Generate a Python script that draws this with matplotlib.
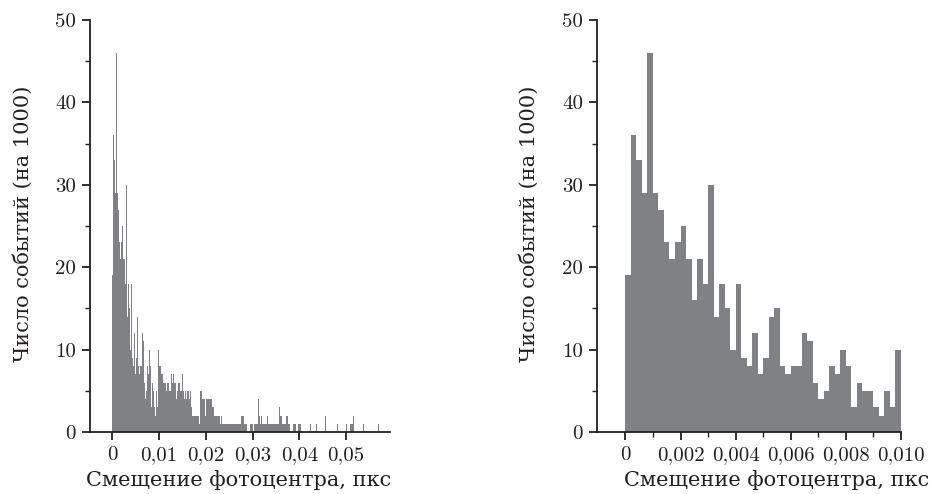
import matplotlib
matplotlib.use("Agg")
import matplotlib.pyplot as plt
import numpy as np

# ---- data ----
bin_width = 0.0002
# counts per bin, 0 .. 0.010 (right panel, also start of left panel)
counts_0_010 = [19, 36, 33, 29, 46, 29, 27, 23, 21, 23,
                25, 21, 16, 21, 18, 30, 14, 18, 15, 10,
                18, 9, 8, 12, 7, 9, 14, 15, 8, 7,
                8, 8, 12, 11, 6, 4, 5, 8, 7, 10,
                8, 3, 6, 5, 5, 3, 2, 5, 3, 10]
# counts per bin, 0.010 .. 0.057 (tail of left panel)
counts_tail = [8, 8, 7, 7, 6, 6, 6, 5, 6, 6,
               6, 5, 5, 7, 6, 7, 6, 6, 4, 5,
               6, 6, 5, 7, 5, 7, 5, 4, 5, 4,
               5, 5, 4, 5, 3, 2, 2, 2, 2, 2,
               2, 2, 2, 1, 5, 5, 4, 4, 4, 2,
               4, 4, 4, 4, 3, 4, 4, 3, 3, 2,
               2, 2, 2, 2, 2, 1, 2, 1, 1, 1,
               3, 1, 1, 1, 1, 1, 1, 1, 1, 1,
               1, 1, 1, 1, 1, 1, 1, 1, 2, 2,
               2, 1, 1, 1, 0, 0, 0, 1, 1, 1,
               0, 0, 1, 1, 1, 1, 4, 2, 1, 2,
               1, 1, 1, 1, 1, 2, 2, 1, 1, 1,
               1, 1, 1, 1, 1, 1, 1, 1, 3, 2,
               2, 1, 1, 1, 1, 1, 2, 2, 1, 1,
               0, 0, 0, 1, 1, 1, 1, 0, 0, 1,
               1, 1, 0, 0, 0, 0, 0, 0, 0, 0,
               0, 1, 0, 0, 0, 0, 0, 0, 1, 0,
               0, 0, 0, 0, 0, 0, 0, 0, 2, 0,
               0, 0, 0, 0, 0, 0, 0, 0, 0, 0,
               1, 0, 0, 0, 0, 0, 0, 0, 0, 0,
               1, 0, 0, 0, 1, 1, 1, 2, 3, 0,
               0, 0, 0, 0, 0, 0, 0, 0, 1, 0,
               0, 0, 0, 0, 0, 0, 0, 0, 0, 0,
               0, 0, 0, 0, 1]

left_xticks = [0, 0.01, 0.02, 0.03, 0.04, 0.05]
left_xticklabels = ["0", "0,01", "0,02", "0,03", "0,04", "0,05"]
right_xticks = [0, 0.002, 0.004, 0.006, 0.008, 0.010]
right_xticklabels = ["0", "0,002", "0,004", "0,006", "0,008", "0,010"]
yticks = [0, 10, 20, 30, 40, 50]
yticklabels = ["0", "10", "20", "30", "40", "50"]

xlabel = "Смещение фотоцентра, пкс"
ylabel = "Число событий (на 1000)"

# ---- style ----
bar_color = "#808185"
text_color = "#231f20"
num_font = ["cmr10", "DejaVu Serif"]
lab_font = ["DejaVu Serif"]
plt.rcParams["axes.unicode_minus"] = False

fig = plt.figure(figsize=(9.32, 4.94), dpi=100)
axL = fig.add_axes([90 / 932, 1 - 432 / 494, 300 / 932, 412 / 494])
axR = fig.add_axes([597 / 932, 1 - 432 / 494, 304 / 932, 412 / 494])

counts_left = np.array(counts_0_010 + counts_tail)
edges_left = np.arange(len(counts_left)) * bin_width
axL.bar(edges_left, counts_left, width=bin_width, align="edge",
        color=bar_color, linewidth=0)
edges_right = np.arange(len(counts_0_010)) * bin_width
axR.bar(edges_right, counts_0_010, width=bin_width, align="edge",
        color=bar_color, linewidth=0)

axL.set_xlim(-0.00477, 0.0594)
axR.set_xlim(-0.00103, 0.0100)

for ax, xt, xtl, lx in [(axL, left_xticks, left_xticklabels, 0.497),
                        (axR, right_xticks, right_xticklabels, 0.592)]:
    ax.set_ylim(0, 50)
    ax.set_yticks(yticks)
    ax.set_yticklabels(yticklabels, family=num_font, fontsize=15, color=text_color)
    ax.set_yticks([5, 15, 25, 35, 45], minor=True)
    ax.set_xticks(xt)
    ax.set_xticklabels(xtl, family=num_font, fontsize=15, color=text_color)
    for s in ["top", "right"]:
        ax.spines[s].set_visible(False)
    for s in ["left", "bottom"]:
        ax.spines[s].set_linewidth(1.3)
        ax.spines[s].set_color(text_color)
    ax.tick_params(axis="both", which="major", length=6, width=1.3,
                   color=text_color, pad=4)
    ax.tick_params(axis="y", which="minor", length=3.5, width=1.0, color=text_color)
    ax.set_xlabel(xlabel, family=lab_font, fontsize=15, color=text_color)
    ax.set_ylabel(ylabel, family=lab_font, fontsize=15, color=text_color)
    ax.xaxis.set_label_coords(lx, -0.092)
    ax.yaxis.set_label_coords(-0.19, 0.505)

axR.set_xticks([0.001, 0.003, 0.005, 0.007, 0.009], minor=True)
axR.tick_params(axis="x", which="minor", length=3.5, width=1.0, color=text_color)
axL.tick_params(axis="x", which="minor", length=0)

fig.savefig("out.png", dpi=100)
